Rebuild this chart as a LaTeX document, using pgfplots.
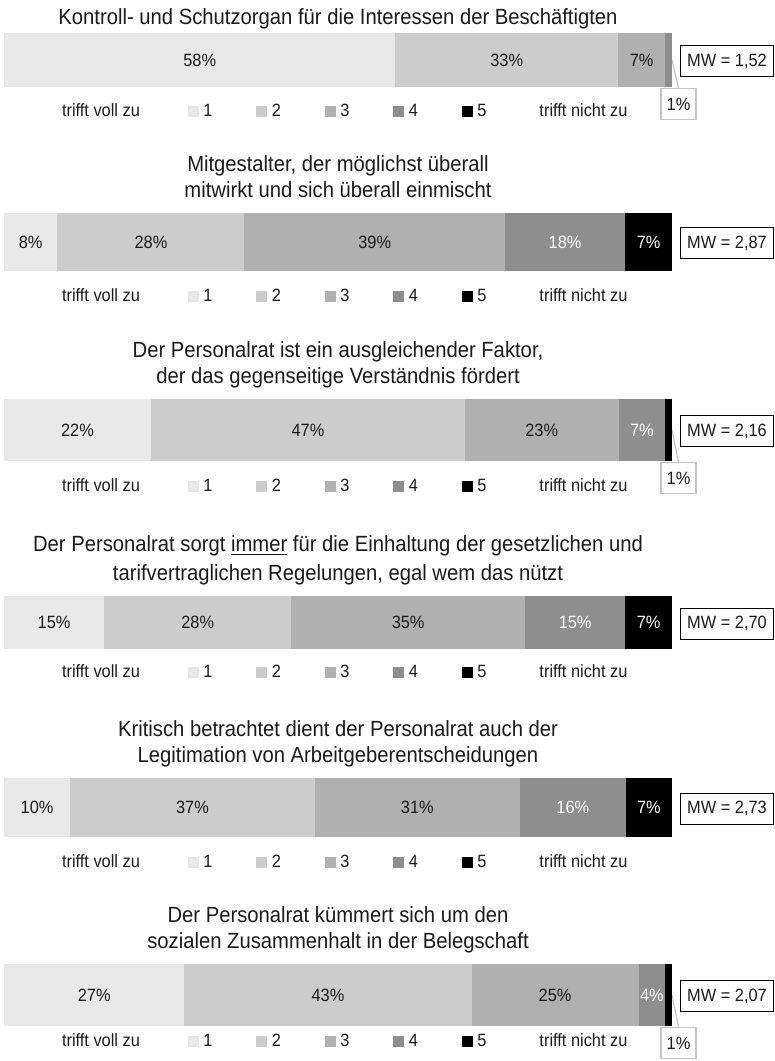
\documentclass[border=0pt]{standalone}
\usepackage{fontspec}
\setmainfont{Liberation Sans}[FakeStretch=0.92]
\usepackage{pgfplots}
\pgfplotsset{compat=1.18}
\definecolor{c1}{HTML}{E8E8E8}
\definecolor{c2}{HTML}{CCCCCC}
\definecolor{c3}{HTML}{B0B0B0}
\definecolor{c4}{HTML}{8E8E8E}
\definecolor{c5}{HTML}{000000}
\definecolor{cbox}{HTML}{C4C4C4}
\definecolor{txt}{HTML}{1A1A1A}
\newcommand\lab{\fontsize{8.9}{10.7}\selectfont}
\newcommand\ttl{\fontsize{11}{13.4}\selectfont}
\pgfplotsset{
  barax/.style n args={3}{% #1 height, #2 legend yshift, #3 xmax
    xbar stacked, scale only axis, width=334pt, height=#1, bar width=#1,
    hide axis, xmin=0, xmax=#3, ymin=0.5, ymax=1.5, enlargelimits=false, clip=false,
    anchor=south west,
    /pgf/number format/assume math mode=true,
    nodes near coords={\pgfmathprintnumber{\pgfplotspointmeta}\%},
    every node near coord/.style={anchor=center, inner sep=0pt, font=\lab, text=txt},
    every axis title shift=0pt,
    title style={at={(0.5,1)}, anchor=south, inner sep=0pt, outer sep=0pt, align=center, font=\ttl, text=txt, yshift=3.5pt},
    legend style={at={(0,0)}, anchor=west, xshift=26.5pt, yshift=-#2, draw=none, fill=none, inner sep=0pt, outer sep=0pt, font=\lab, text=txt, legend columns=-1, nodes={inner sep=0pt},
      /tikz/every odd column/.append style={column sep=2.5pt},
      /tikz/every even column/.append style={column sep=22pt}},
  },
  wlab/.style={every node near coord/.append style={text=white}},
  nolab/.style={nodes near coords={}},
}
\newcommand\sq[1]{\addlegendimage{legend image code/.code={\fill[#1] (0pt,-2.2pt) rectangle (4.8pt,2.6pt);}}}
\newcommand\mylegend{%
  \addlegendimage{empty legend}\addlegendentry{trifft voll zu\hspace*{2pt}}
  \sq{c1}\addlegendentry{1}
  \sq{c2}\addlegendentry{2}
  \sq{c3}\addlegendentry{3}
  \sq{c4}\addlegendentry{4}
  \sq{c5}\addlegendentry{5}
  \addlegendimage{empty legend}\addlegendentry{\hspace*{2pt}trifft nicht zu}
}
\newcommand\mw[1]{\node[draw=black, line width=0.5pt, inner sep=0pt, minimum width=46.5pt, minimum height=15.5pt, anchor=west, xshift=4pt, yshift=-0.5pt, font=\lab, text=txt] at (rel axis cs:1,0.5) {#1};}
\newcommand\callout{%
  \draw[cbox, line width=0.6pt] (rel axis cs:1,0.5) -- ([xshift=3.25pt,yshift=-0.5pt]rel axis cs:1,0);
  \node[draw=cbox, line width=0.7pt, fill=white, inner sep=0pt, minimum width=17.5pt, minimum height=15.5pt, anchor=north, xshift=3.25pt, yshift=-0.5pt, font=\lab, text=txt] at (rel axis cs:1,0) {1\%};}
\begin{document}
\begin{tikzpicture}
\path[use as bounding box] (0pt,0pt) rectangle (387.5pt,-530.5pt);

% 1
\begin{axis}[barax={27pt}{12.5pt}{99}, at={(2pt,-43.5pt)},
  title={Kontroll- und Schutzorgan für die Interessen der Beschäftigten\strut},
  title style={yshift=-3.5pt}]
\addplot[fill=c1, draw=none, forget plot] coordinates {(58,1)};
\addplot[fill=c2, draw=none, forget plot] coordinates {(33,1)};
\addplot[fill=c3, draw=none, forget plot] coordinates {(7,1)};
\addplot[fill=c4, draw=none, forget plot, nolab] coordinates {(1,1)};
\mylegend
\mw{MW = 1,52}
\callout
\end{axis}

% 2
\begin{axis}[barax={29pt}{13pt}{100}, at={(2pt,-135.5pt)},
  title={Mitgestalter, der möglichst überall\\mitwirkt und sich überall einmischt\strut}]
\addplot[fill=c1, draw=none, forget plot] coordinates {(8,1)};
\addplot[fill=c2, draw=none, forget plot] coordinates {(28,1)};
\addplot[fill=c3, draw=none, forget plot] coordinates {(39,1)};
\addplot[fill=c4, draw=none, forget plot, wlab] coordinates {(18,1)};
\addplot[fill=c5, draw=none, forget plot, wlab] coordinates {(7,1)};
\mylegend
\mw{MW = 2,87}
\end{axis}

% 3
\begin{axis}[barax={31pt}{13pt}{100}, at={(2pt,-230.5pt)},
  title={Der Personalrat ist ein ausgleichender Faktor,\\der das gegenseitige Verständnis fördert\strut}]
\addplot[fill=c1, draw=none, forget plot] coordinates {(22,1)};
\addplot[fill=c2, draw=none, forget plot] coordinates {(47,1)};
\addplot[fill=c3, draw=none, forget plot] coordinates {(23,1)};
\addplot[fill=c4, draw=none, forget plot, wlab] coordinates {(7,1)};
\addplot[fill=c5, draw=none, forget plot, nolab] coordinates {(1,1)};
\mylegend
\mw{MW = 2,16}
\callout
\end{axis}

% 4
\begin{axis}[barax={26.5pt}{12pt}{100}, at={(2pt,-324.5pt)},
  title={Der Personalrat sorgt \underline{immer} für die Einhaltung der gesetzlichen und\\[1.2pt]tarifvertraglichen Regelungen, egal wem das nützt\strut}]
\addplot[fill=c1, draw=none, forget plot] coordinates {(15,1)};
\addplot[fill=c2, draw=none, forget plot] coordinates {(28,1)};
\addplot[fill=c3, draw=none, forget plot] coordinates {(35,1)};
\addplot[fill=c4, draw=none, forget plot, wlab] coordinates {(15,1)};
\addplot[fill=c5, draw=none, forget plot, wlab] coordinates {(7,1)};
\mylegend
\mw{MW = 2,70}
\end{axis}

% 5
\begin{axis}[barax={29.5pt}{13pt}{101}, at={(2pt,-418.5pt)},
  title={Kritisch betrachtet dient der Personalrat auch der\\Legitimation von Arbeitgeberentscheidungen\strut}]
\addplot[fill=c1, draw=none, forget plot] coordinates {(10,1)};
\addplot[fill=c2, draw=none, forget plot] coordinates {(37,1)};
\addplot[fill=c3, draw=none, forget plot] coordinates {(31,1)};
\addplot[fill=c4, draw=none, forget plot, wlab] coordinates {(16,1)};
\addplot[fill=c5, draw=none, forget plot, wlab] coordinates {(7,1)};
\mylegend
\mw{MW = 2,73}
\end{axis}

% 6
\begin{axis}[barax={31pt}{8pt}{100}, at={(2pt,-513pt)},
  title={Der Personalrat kümmert sich um den\\sozialen Zusammenhalt in der Belegschaft\strut}]
\addplot[fill=c1, draw=none, forget plot] coordinates {(27,1)};
\addplot[fill=c2, draw=none, forget plot] coordinates {(43,1)};
\addplot[fill=c3, draw=none, forget plot] coordinates {(25,1)};
\addplot[fill=c4, draw=none, forget plot, wlab] coordinates {(4,1)};
\addplot[fill=c5, draw=none, forget plot, nolab] coordinates {(1,1)};
\mylegend
\mw{MW = 2,07}
\callout
\end{axis}
\end{tikzpicture}
\end{document}
